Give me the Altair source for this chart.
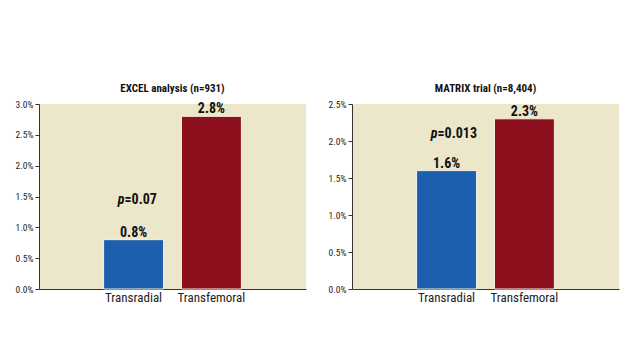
import altair as alt
import pandas as pd

categories = ["Transradial", "Transfemoral"]
excel_values = [0.008, 0.028]
matrix_values = [0.016, 0.023]
titles = ["EXCEL analysis (n=931)", "MATRIX trial (n=8,404)"]
p_texts = ["=0.07", "=0.013"]
y_max = [0.03, 0.025]
colors = ["#1c5fae", "#8c0f1d"]

FONT = "Roboto Condensed"


def panel(values, title, ptext, ymax, p_y):
    df = pd.DataFrame({"cat": categories, "val": values})
    n_ticks = int(round(ymax / 0.005)) + 1
    tick_vals = [round(i * 0.005, 4) for i in range(n_ticks)]
    xscale = alt.Scale(domain=categories, paddingInner=0.23, paddingOuter=0.83)
    xaxis = alt.Axis(labelAngle=0, ticks=False, domainColor="#333",
                     labelFont=FONT, labelFontSize=13, labelColor="#222", labelPadding=2)
    yscale = alt.Scale(domain=[0, ymax], nice=False, zero=True)
    yaxis = alt.Axis(format=".1%", values=tick_vals, labelOverlap=False, tickCount=n_ticks,
                     grid=False, domainColor="#333", tickColor="#333", tickSize=4,
                     labelFont=FONT, labelFontSize=9.5, labelColor="#222")
    x = alt.X("cat:N", sort=categories, title=None, scale=xscale, axis=xaxis)
    y = alt.Y("val:Q", title=None, scale=yscale, axis=yaxis)
    bars = alt.Chart(df).mark_bar(stroke="#f5f2e4", strokeWidth=1).encode(
        x=x, y=y,
        color=alt.Color("cat:N", sort=categories,
                        scale=alt.Scale(domain=categories, range=colors), legend=None))
    labels = alt.Chart(df).mark_text(dy=-7, font=FONT, fontSize=14, fontWeight="bold", color="#111").encode(
        x=x, y=y, text=alt.Text("val:Q", format=".1%"))
    pdf = pd.DataFrame({"cat": [categories[0]], "t": [ptext], "py": [p_y]})
    py = alt.Y("py:Q", title=None, scale=yscale, axis=yaxis)
    p_italic = alt.Chart(pdf).mark_text(align="right", dx=-9, font=FONT, fontSize=14, fontWeight="bold",
                                        fontStyle="italic", color="#111").encode(
        x=x, y=py, text=alt.value("p"))
    p_rest = alt.Chart(pdf).mark_text(align="left", dx=-9, font=FONT, fontSize=14, fontWeight="bold",
                                      color="#111").encode(
        x=x, y=py, text="t:N")
    return alt.layer(bars, labels, p_italic, p_rest).properties(
        width=267, height=185,
        title=alt.TitleParams(title, font=FONT, fontSize=11, fontWeight="bold", color="#111", offset=5))


left = panel(excel_values, titles[0], p_texts[0], y_max[0], 0.0144)
right = panel(matrix_values, titles[1], p_texts[1], y_max[1], 0.0209)

chart = alt.hconcat(left, right, spacing=22).properties(
    padding={"top": 75, "left": 7, "right": 5, "bottom": 5},
    background="white",
).configure_view(fill="#ece6cb", stroke=None)

chart.save("out.html", embed_options={"renderer": "svg", "actions": False})
